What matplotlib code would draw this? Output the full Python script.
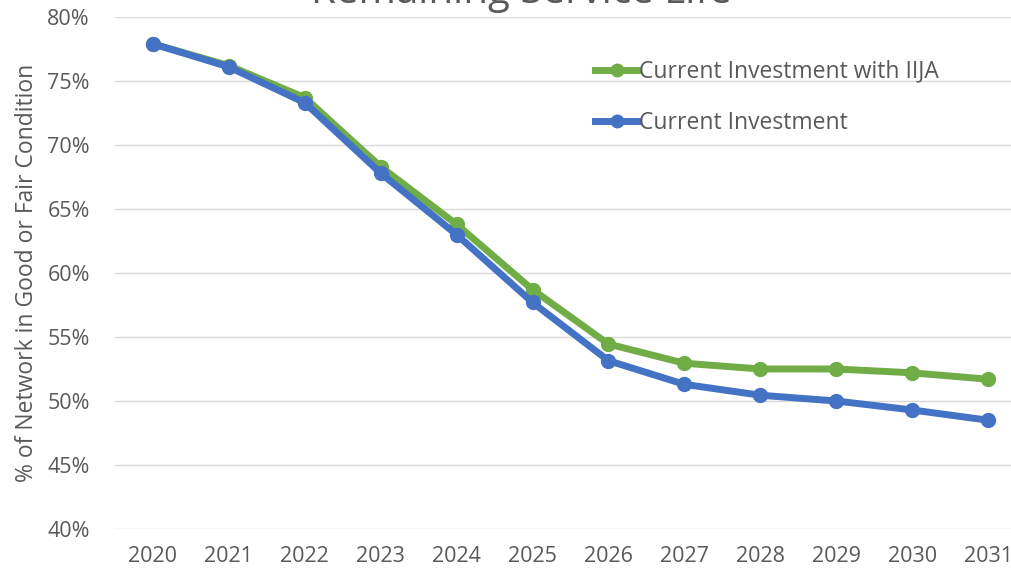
import matplotlib
matplotlib.use("Agg")
import matplotlib.pyplot as plt
from matplotlib.ticker import FuncFormatter

plt.rcParams['font.family'] = ['Open Sans', 'DejaVu Sans']

years = [2020, 2021, 2022, 2023, 2024, 2025, 2026, 2027, 2028, 2029, 2030, 2031]
with_iija = [77.9, 76.2, 73.7, 68.3, 63.8, 58.7, 54.45, 52.95, 52.5, 52.5, 52.2, 51.7]
current = [77.9, 76.1, 73.3, 67.8, 63.0, 57.7, 53.15, 51.3, 50.45, 50.0, 49.3, 48.5]

green = '#70AD47'
blue = '#4472C4'
grey = '#595959'

fig = plt.figure(figsize=(10.12, 5.78), dpi=100)
ax = fig.add_axes([0.1136, 0.0848, 0.9002, 0.8858])

x = list(range(len(years)))
ax.plot(x, with_iija, color=green, lw=5, marker='o', ms=10,
        label='Current Investment with IIJA', zorder=3)
ax.plot(x, current, color=blue, lw=5, marker='o', ms=10,
        label='Current Investment', zorder=4)

ax.set_xlim(-0.5, 11.5)
ax.set_ylim(40, 80)
ax.set_yticks(range(40, 81, 5))
ax.yaxis.set_major_formatter(FuncFormatter(lambda v, p: f'{v:.0f}%'))
ax.set_xticks(x)
ax.set_xticklabels([str(y) for y in years])
ax.grid(axis='y', color='#D9D9D9', lw=1)
ax.set_axisbelow(True)
for s in ax.spines.values():
    s.set_visible(False)
ax.tick_params(length=0, labelsize=15.5, colors=grey)
ax.tick_params(axis='y', pad=18)
ax.tick_params(axis='x', pad=12)
ax.set_ylabel('% of Network in Good or Fair Condition', fontsize=16.5, color=grey, labelpad=6)

fig.text(0.515, 0.994, 'Remaining Service Life', ha='center', va='baseline',
         fontsize=29, color=grey)

leg = ax.legend(loc='upper left', bbox_to_anchor=(0.504, 0.957), frameon=False,
                fontsize=16.5, handlelength=1.9, handletextpad=0.05, labelspacing=1.2,
                labelcolor=grey)
for h in leg.legend_handles:
    h.set_markersize(9)

fig.savefig('out.png', dpi=100)
